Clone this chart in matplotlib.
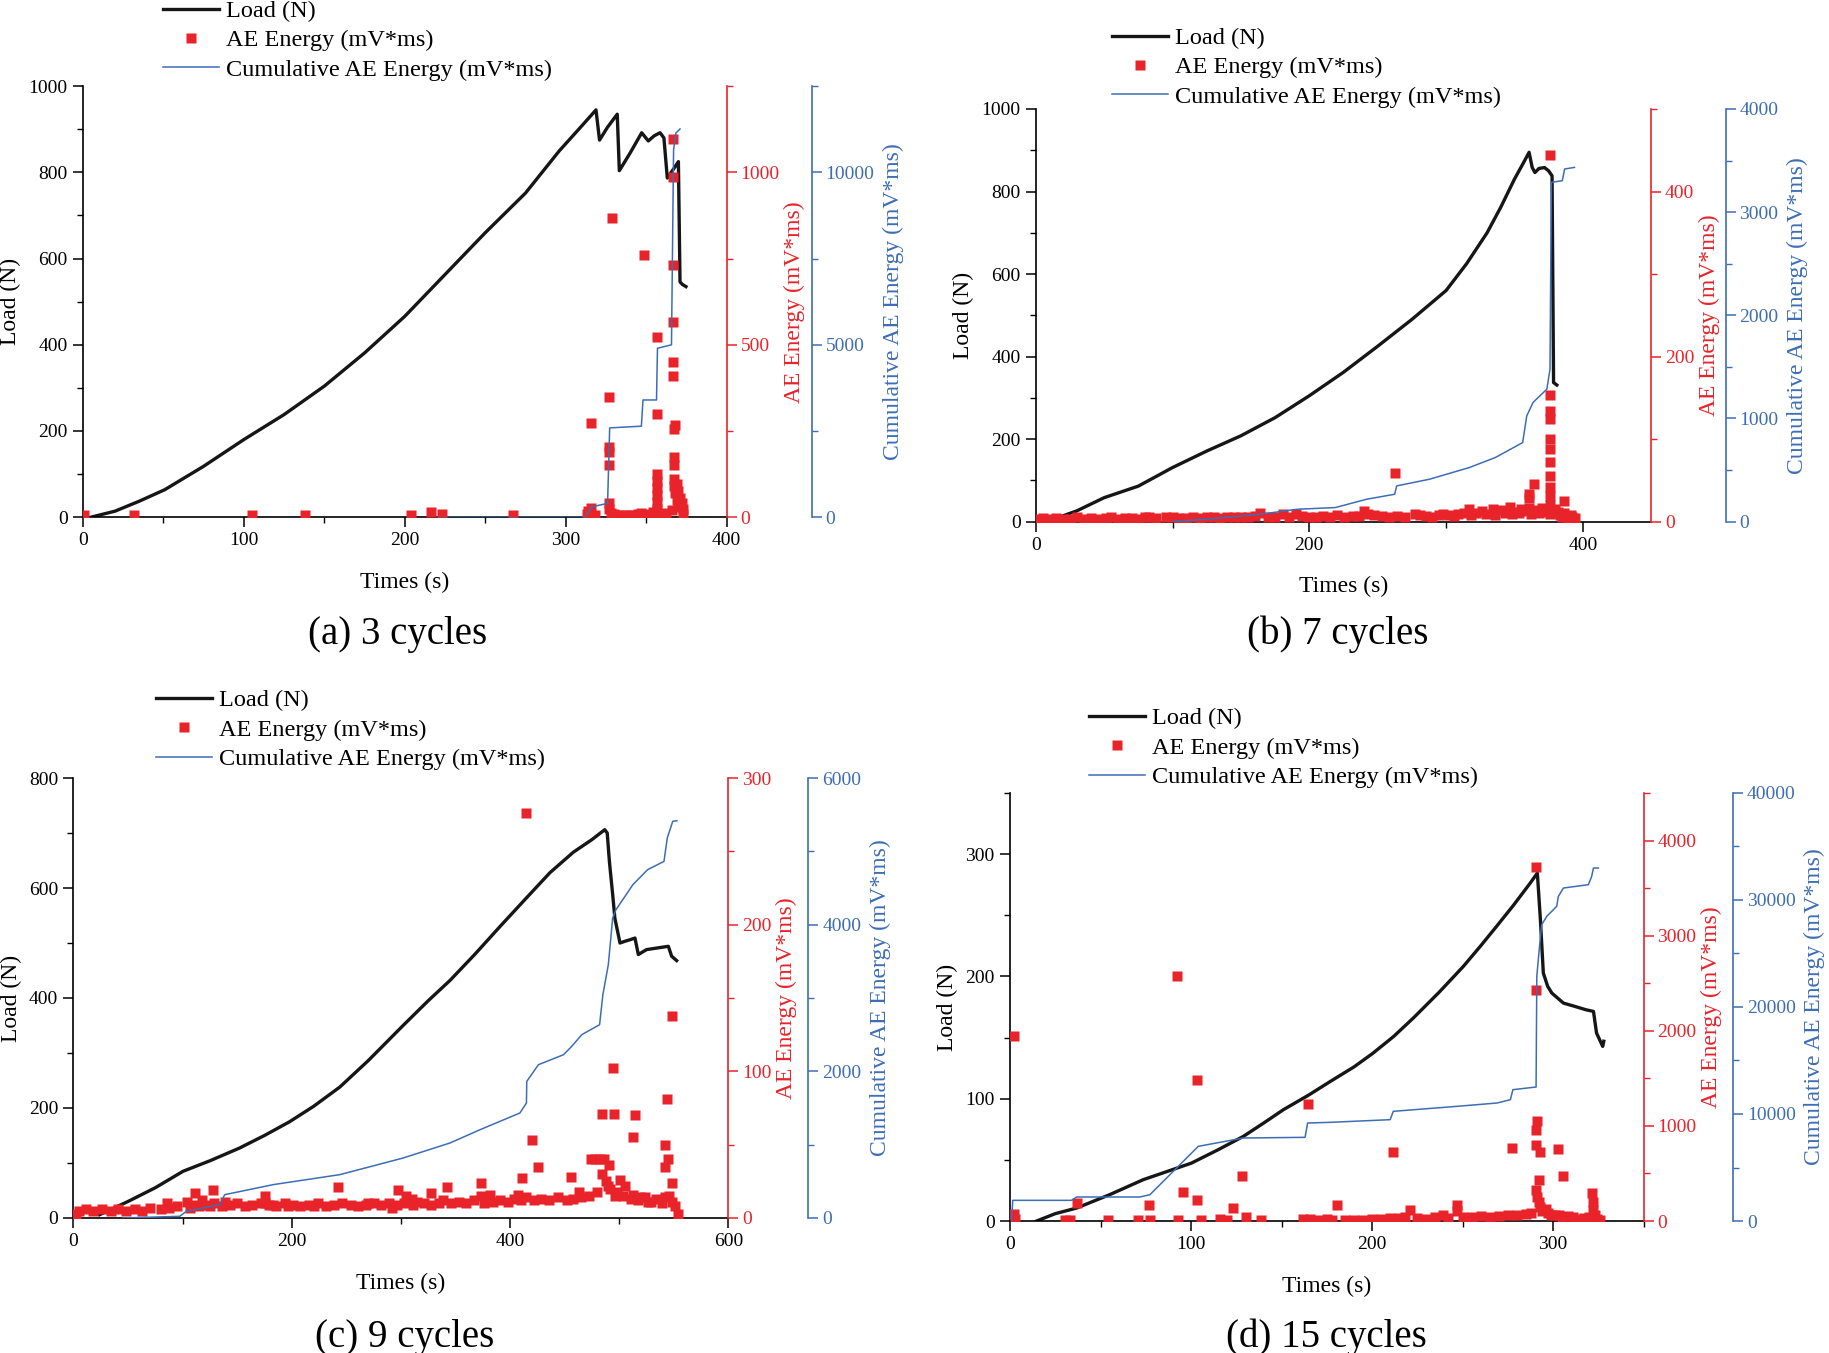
import matplotlib
matplotlib.use("Agg")
import matplotlib.pyplot as plt
from matplotlib.ticker import MultipleLocator
from matplotlib.lines import Line2D

plt.rcParams['font.family'] = ['Liberation Serif', 'DejaVu Serif']

RED = '#E8232A'
BLUE = '#3D6DB5'

# ---------------- (a) 3 cycles ----------------
a_load_t = [5, 20, 35, 51, 75, 100, 125, 150, 175, 200, 225, 250, 275, 296, 310, 318.8, 321, 326, 332,
            333.3, 340, 347.2, 351.3, 355, 358.6, 361, 363.1, 367.9, 370, 371, 372.5, 374.7]
a_load = [0, 14, 37, 64, 118, 180, 238, 304, 381, 466, 563, 660, 752, 850, 908, 945, 875, 905, 935,
          804, 845, 892, 873, 885, 892, 880, 787, 813, 825, 546, 540, 535]
a_cum_t = [221, 312, 316, 326, 327.3, 347, 348, 356.4, 357, 365.7, 367, 368.4, 371]
a_cum = [0, 0, 300, 400, 2590, 2640, 3400, 3400, 4900, 5000, 10650, 11140, 11260]
a_ae = [(1, 5), (32, 5), (105, 5), (138, 5), (204, 5), (216, 16), (223, 8), (267, 6),
        (313, 8), (314, 18), (316, 28), (316, 273), (318, 6),
        (327, 350), (327, 205), (327, 190), (327, 150), (327, 40), (327, 25), (328, 12), (329, 869), (330, 8),
        (333, 6), (336, 5), (339, 6), (342, 5), (345, 8), (347, 12), (348.5, 760), (350, 6), (352, 8), (354, 14),
        (357, 523), (357, 300), (357, 124), (357, 105), (357, 85), (357, 65), (357, 45), (357, 25),
        (358, 10), (360, 8), (362, 12), (366, 20),
        (366.5, 1098), (366.5, 986), (366.5, 732), (366.5, 566), (366.5, 451), (366.5, 409), (367, 256),
        (367, 175), (367, 150), (367, 112), (367, 90), (368, 266), (368, 70), (369, 95), (369, 50),
        (370, 75), (370, 30), (371, 55), (372, 40), (373, 25), (373, 10)]

# ---------------- (b) 7 cycles ----------------
b_load_t = [14, 30, 50, 75, 100, 125, 150, 175, 200, 225, 250, 275, 300, 315, 330, 340, 350, 356,
            360.7, 363, 365, 368, 372, 375, 377.5, 378.6, 381]
b_load = [7, 26, 58, 86, 131, 171, 208, 252, 305, 362, 425, 490, 560, 625, 700, 762, 830, 866,
          895, 858, 846, 856, 858, 850, 838, 337, 331]
b_cum_t = [100, 130, 164, 191.6, 219, 242, 262.4, 263.9, 288, 317, 336, 356, 359, 363.6, 373.7, 376,
           377, 385, 386.7, 393.9]
b_cum = [0, 29, 71, 120, 136, 217, 265, 346, 411, 524, 621, 766, 1025, 1155, 1284, 1478,
         3289, 3305, 3418, 3434]
b_ae = [(376, 444), (376, 154), (376, 134), (376, 124), (376, 100), (376, 88), (376, 72), (376, 55),
        (376, 42), (376, 31), (376, 20), (376, 9),
        (263, 59), (364, 46), (360.5, 34), (360.5, 29), (386, 25), (346.7, 18), (386, 11), (392, 5),
        (240, 13), (163.6, 10), (317, 15), (334, 15), (326, 13), (277, 9), (309, 9), (361, 17), (370, 17),
        (190, 9), (181, 9), (253, 7), (95, 6), (51, 4), (83, 5), (340, 14),
        (2, 3), (10, 3), (20, 3), (35, 3), (60, 3), (70, 4), (110, 4), (120, 4), (130, 5), (140, 5),
        (150, 6), (170, 6), (200, 6), (210, 7), (225, 6), (232, 7), (247, 8), (270, 6), (285, 7), (295, 8),
        (302, 8), (322, 10), (336, 8), (350, 12), (355, 15), (366, 14), (380, 15), (383, 8), (388, 6), (390, 3)]
b_ae_low = [(5, 4), (15, 4), (25, 3), (30, 5), (40, 4), (45, 3), (55, 5), (65, 4), (75, 3), (80, 5),
            (88, 4), (100, 5), (105, 4), (115, 6), (125, 5), (135, 4), (145, 6), (155, 5), (160, 7),
            (175, 5), (185, 6), (195, 7), (205, 5), (215, 6), (220, 8), (236, 7), (243, 9), (258, 6),
            (264, 7), (281, 8), (290, 6), (298, 9), (306, 7), (313, 10), (318, 8), (329, 9), (343, 10),
            (348, 9), (353, 11), (358, 13), (362, 9), (368, 11), (373, 12), (378, 10), (382, 12),
            (385, 6), (391, 8), (394, 4)]

# ---------------- (c) 9 cycles ----------------
c_load_t = [24, 50, 75, 100.5, 125, 152, 175, 198, 220, 244, 270, 302, 325, 345, 368, 390.8, 415,
            436.6, 457.9, 475, 486.7, 489, 491, 494, 496, 500.7, 505, 510, 514.4, 517.5, 525, 535,
            545, 548, 552.6]
c_load = [6, 30, 55, 85, 104, 127, 150, 175, 203, 238, 286, 350, 395, 432, 480, 530, 582,
          628, 665, 688, 706, 700, 648, 588, 545, 500, 503, 506, 509, 479, 488, 491,
          494, 476, 468]
c_cum_t = [45, 97.4, 103.5, 134, 138.6, 183, 244, 302, 345, 372.5, 409, 415, 415.3, 426, 449, 456.5,
           465.7, 482, 485, 490, 494, 497, 512.5, 526, 541, 544, 549, 552.8]
c_cum = [0, 23, 91, 182, 318, 455, 591, 818, 1023, 1204, 1432, 1568, 1863, 2091, 2227, 2341,
         2500, 2636, 3045, 3454, 4090, 4204, 4545, 4750, 4863, 5181, 5409, 5418]
c_ae = [(414.3, 276), (548, 138), (494, 102), (544, 81), (484, 71), (495, 71), (514, 70), (513, 55),
        (419.7, 53), (542, 50), (545, 40), (542, 35), (425.8, 35), (411, 27), (456, 28), (463, 18),
        (548, 24), (491, 36), (474, 40), (478, 40), (482, 40), (486, 40), (373, 24), (373, 15),
        (342, 21), (327.4, 17), (381.6, 16), (500.7, 26), (505, 22), (407, 16), (513, 16), (519, 14),
        (526.7, 11), (542, 14), (548, 11), (554, 3), (484, 30), (488, 25), (492, 20), (496, 15),
        (111.5, 17), (127.6, 19), (85.5, 10), (103.8, 11), (139, 11), (175.6, 15), (175.6, 10),
        (183, 9), (197, 8), (220, 8), (242.7, 21), (270, 10), (297.7, 19), (291.6, 7), (305, 15),
        (310, 13), (112, 9), (118, 12), (125, 8)]
c_ae_low = [(2, 3), (5, 5), (12, 6), (18, 5), (26, 6), (34, 5), (41, 6), (48, 5), (56, 6), (63, 5),
            (70, 7), (80, 6), (88, 7), (95, 8), (107, 7), (115, 8), (122, 9), (129, 10), (136, 8),
            (143, 9), (150, 10), (157, 8), (164, 9), (172, 10), (179, 9), (186, 8), (194, 10),
            (201, 9), (208, 8), (216, 9), (224, 10), (231, 8), (239, 9), (246, 10), (254, 9), (261, 8),
            (268, 9), (275, 10), (282, 9), (289, 10), (296, 9), (303, 10), (311, 9), (315, 11),
            (321, 10), (328, 9), (335, 10), (339, 12), (346, 10), (353, 11), (360, 10), (367, 12),
            (376, 10), (384, 11), (391, 12), (398, 11), (404, 13), (410, 12), (415, 14), (422, 12),
            (428, 13), (436, 12), (444, 14), (452, 12), (458, 13), (465, 14), (472, 15), (480, 18),
            (490, 22), (498, 18), (503, 15), (511, 13), (517, 12), (524, 14), (529, 11), (534, 13),
            (539, 10), (546, 15), (551, 8)]

# ---------------- (d) 15 cycles ----------------
d_load_t = [14.7, 25, 36.8, 55, 73.6, 87, 100.3, 115, 128.9, 140, 151, 165, 176.8, 190, 200.3, 212,
            222.8, 237, 250.3, 260, 268.8, 278, 287.2, 291.3, 293, 294.6, 297, 299.3, 305.7, 312,
            318, 322.3, 324, 327.4, 328]
d_load = [0, 6, 10.6, 21.5, 33.8, 40.6, 47.4, 58.3, 69.2, 80, 91, 103, 114, 126, 137, 151,
          166, 187, 208, 225, 241, 258, 276, 284.5, 246, 202.8, 191.9, 186.4, 178.2, 175.5,
          172.8, 171.4, 153.7, 142.8, 147]
d_cum_t = [0.9, 1.5, 34, 36.8, 71.8, 77.3, 104, 128.9, 163, 164.4, 176.8, 210, 211.7, 246.9, 269,
           276.4, 277.8, 290.6, 291, 292.5, 293.7, 296.5, 302, 302.9, 305.7, 319.5, 321.3, 322.3, 325]
d_cum = [0, 1931, 1931, 2243, 2243, 2461, 6978, 7756, 7819, 9158, 9220, 9470, 10248, 10716, 11027,
         11338, 12273, 12522, 22864, 25668, 27692, 28471, 29406, 30340, 31119, 31430, 32209, 32988, 32988]
d_ae = [(2.2, 1942), (92.4, 2580), (103.5, 1486), (164.4, 1230), (128.3, 477), (95.4, 301),
        (36.8, 189), (76.6, 168), (103.5, 217), (123.4, 133), (130.4, 42), (2, 77), (3, 21),
        (30.4, 12), (33, 8), (54.3, 8), (70.9, 8), (77.3, 8), (93, 8), (105.3, 12), (116, 20),
        (119.7, 10), (138.6, 8), (162, 20), (165.7, 20), (170, 15), (175, 18),
        (290.5, 3722), (290.5, 2425), (291.3, 1048), (290.5, 960), (290.5, 803), (292.8, 722),
        (277.5, 768), (302.5, 757), (305.7, 477), (292.4, 435), (211.7, 722), (180.4, 172),
        (290.5, 330), (291, 250), (292, 200), (293, 150), (294, 100), (296, 130), (297, 80),
        (299, 60), (301, 60), (303, 60), (305, 40), (321.3, 294), (322, 200), (322, 120), (323, 60),
        (320, 40), (324, 20), (246.7, 172), (246.7, 100), (221, 119), (239.4, 67),
        (178, 10), (185, 15), (190, 12), (195, 10), (200, 20), (205, 25), (210, 30), (215, 35),
        (218, 40), (225, 30), (230, 25), (235, 40), (242, 35), (250, 45), (255, 40), (260, 50),
        (265, 45), (270, 55), (275, 60), (280, 60), (285, 70), (288, 80), (308, 50), (311, 40),
        (314, 25), (317, 30), (326, 10)]

fig = plt.figure(figsize=(18.29, 13.53), dpi=100)


def panel(rect, load_t, load, ae, cum_t, cum, xlim, xstep, ylim, ystep, rlim, rstep, blim, bstep,
          boff, leg_xy, cap_xy, caption):
    ax = fig.add_axes(rect)
    ax2 = ax.twinx()
    ax3 = ax.twinx()

    ax.plot(load_t, load, color='#161616', lw=2.4, solid_joinstyle='round')
    ae_t = [p[0] for p in ae]
    ae_e = [p[1] for p in ae]
    ax2.plot(ae_t, ae_e, ls='none', marker='s', ms=6.8, mec='none', color=RED)
    ax3.plot(cum_t, cum, color=BLUE, lw=1.1)

    ax.set_xlim(*xlim)
    ax.set_ylim(*ylim)
    ax2.set_ylim(*rlim)
    ax3.set_ylim(*blim)
    ax.xaxis.set_major_locator(MultipleLocator(xstep))
    ax.xaxis.set_minor_locator(MultipleLocator(xstep / 2))
    ax.yaxis.set_major_locator(MultipleLocator(ystep))
    ax.yaxis.set_minor_locator(MultipleLocator(ystep / 2))
    ax2.yaxis.set_major_locator(MultipleLocator(rstep))
    ax2.yaxis.set_minor_locator(MultipleLocator(rstep / 2))
    ax3.yaxis.set_major_locator(MultipleLocator(bstep))
    ax3.yaxis.set_minor_locator(MultipleLocator(bstep / 2))

    for a in (ax, ax2, ax3):
        a.spines['top'].set_visible(False)
        for s in a.spines.values():
            s.set_linewidth(1.2)
    ax.spines['right'].set_visible(False)
    ax2.spines['left'].set_visible(False)
    ax3.spines['left'].set_visible(False)
    ax2.spines['bottom'].set_visible(False)
    ax3.spines['bottom'].set_visible(False)
    ax2.spines['right'].set_color(RED)
    ax3.spines['right'].set_color(BLUE)
    ax3.spines['right'].set_position(('axes', boff))

    ax.tick_params(which='major', direction='out', length=7, width=1.1, labelsize=14, pad=4)
    ax.tick_params(which='minor', direction='out', length=4, width=1.0)
    ax2.tick_params(which='major', direction='out', length=7, width=1.1, labelsize=14, pad=3,
                    colors=RED)
    ax2.tick_params(which='minor', direction='out', length=4, width=1.0, colors=RED)
    ax3.tick_params(which='major', direction='out', length=7, width=1.1, labelsize=14, pad=3,
                    colors=BLUE)
    ax3.tick_params(which='minor', direction='out', length=4, width=1.0, colors=BLUE)

    ax.set_xlabel('Times (s)', fontsize=17, labelpad=16)
    ax.set_ylabel('Load (N)', fontsize=17, labelpad=5)
    ax2.set_ylabel('AE Energy (mV*ms)', fontsize=17, color=RED, labelpad=3)
    ax3.set_ylabel('Cumulative AE Energy (mV*ms)', fontsize=17, color=BLUE, labelpad=6)

    handles = [Line2D([], [], color='#161616', lw=2.4),
               Line2D([], [], ls='none', marker='s', ms=6.8, mec='none', color=RED),
               Line2D([], [], color=BLUE, lw=1.1)]
    labels = ['Load (N)', 'AE Energy (mV*ms)', 'Cumulative AE Energy (mV*ms)']
    fig.legend(handles, labels, loc='upper left', bbox_to_anchor=leg_xy, frameon=False,
               fontsize=17.5, borderpad=0, borderaxespad=0, handlelength=2.3, handletextpad=0.3,
               labelspacing=0.3, numpoints=1)
    fig.text(cap_xy[0], cap_xy[1], caption, fontsize=28, ha='center', va='center')


panel([0.04527, 0.61774, 0.35205, 0.31855], a_load_t, a_load, a_ae, a_cum_t, a_cum,
      (0, 400), 100, (0, 1000), 200, (0, 1250), 500, (0, 12500), 5000, 1.132,
      (0.0891, 1.0), (0.2176, 0.5314), '(a) 3 cycles')
panel([0.56632, 0.61449, 0.33647, 0.30495], b_load_t, b_load, b_ae + b_ae_low, b_cum_t, b_cum,
      (0, 450), 200, (0, 1000), 200, (0, 500), 200, (0, 4000), 1000, 1.121,
      (0.6080, 0.9800), (0.7315, 0.5314), '(b) 7 cycles')
panel([0.04013, 0.09978, 0.35812, 0.32520], c_load_t, c_load, c_ae + c_ae_low, c_cum_t, c_cum,
      (0, 600), 200, (0, 800), 200, (0, 300), 100, (0, 6000), 2000, 1.122,
      (0.0853, 0.4904), (0.2214, 0.0118), '(c) 9 cycles')
panel([0.55222, 0.09756, 0.34642, 0.31634], d_load_t, d_load, d_ae, d_cum_t, d_cum,
      (0, 350), 100, (0, 350), 100, (0, 4500), 1000, (0, 40000), 10000, 1.141,
      (0.5954, 0.4771), (0.7250, 0.0118), '(d) 15 cycles')

fig.savefig('out.png', dpi=100)
